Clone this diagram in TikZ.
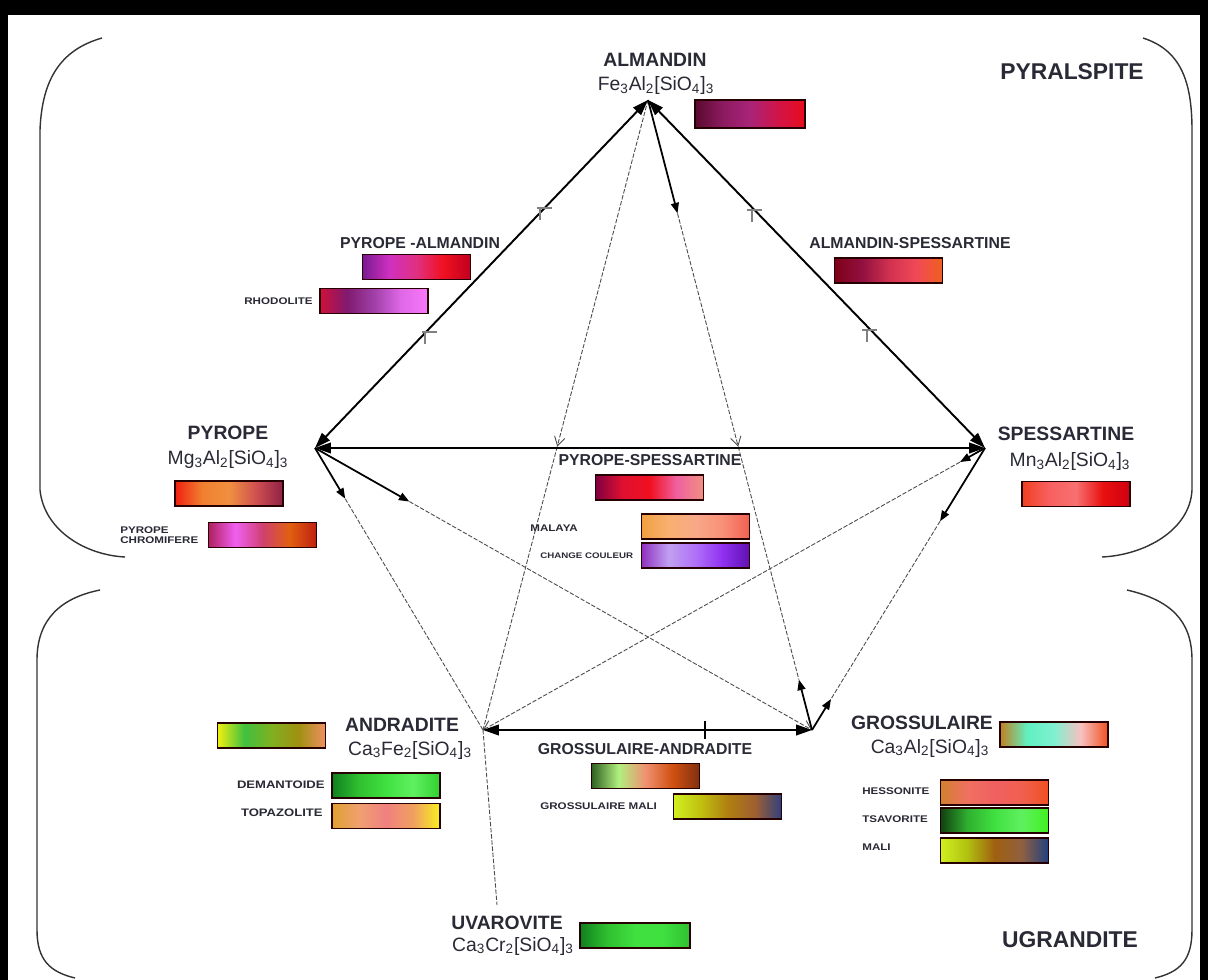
\documentclass[tikz,border=0pt]{standalone}
\usepackage{fontspec}
\setmainfont{Liberation Sans}
\newfontfamily\widebf{Liberation Sans}[FakeStretch=1.2]
\usetikzlibrary{arrows.meta,calc}
\definecolor{ink}{HTML}{2A2A36}
\newcommand\gemshade[6]{%
  \definecolor{#1a}{HTML}{#2}\definecolor{#1b}{HTML}{#3}\definecolor{#1c}{HTML}{#4}%
  \definecolor{#1d}{HTML}{#5}\definecolor{#1e}{HTML}{#6}%
  \pgfdeclarehorizontalshading{#1}{100bp}{color(0bp)=(#1a); color(25bp)=(#1a);
    color(37.5bp)=(#1b); color(50bp)=(#1c); color(62.5bp)=(#1d);
    color(75bp)=(#1e); color(100bp)=(#1e)}}
\gemshade{almshade}{5A0A2E}{8C1A60}{A82478}{D01448}{E80C1C}
\gemshade{pyalshade}{7A1A90}{D030C0}{E03080}{F01020}{C00020}
\gemshade{rhoshade}{D0103A}{801A70}{A040A8}{E068E8}{F878F8}
\gemshade{alspshade}{800018}{901040}{D03050}{F04858}{F06020}
\gemshade{pyrshade}{F02010}{F08030}{F09040}{D05050}{902048}
\gemshade{chrshade}{B02060}{F060F0}{D04070}{E06010}{C02010}
\gemshade{pyspshade}{800040}{E01030}{F01020}{F060A0}{F09080}
\gemshade{malshade}{F0A040}{F8B070}{F8A888}{F89078}{F06050}
\gemshade{ccshade}{9030C0}{C0A0F0}{B070F8}{9030F0}{6010B0}
\gemshade{speshade}{F04020}{F86060}{F87070}{E81010}{D00010}
\gemshade{andshade}{F0F010}{40C040}{80B020}{A09010}{F09060}
\gemshade{demshade}{108020}{30C030}{40E040}{60F060}{30D030}
\gemshade{topshade}{E0A030}{F0A070}{F08080}{F0A060}{F8F020}
\gemshade{grandshade}{306020}{B0F080}{F09070}{D05010}{803010}
\gemshade{gmalishade}{D0F020}{C0C010}{B08010}{A06030}{304080}
\gemshade{groshade}{C08020}{60F0C0}{80F0D0}{F8C0C0}{F05020}
\gemshade{hesshade}{D08030}{F07060}{F06060}{F06050}{F05020}
\gemshade{tsashade}{104010}{30B030}{40E040}{60F060}{40F020}
\gemshade{malishade}{D0F020}{B0C010}{A06010}{906040}{204080}
\gemshade{uvashade}{108020}{30C030}{40E040}{40E040}{30C030}

\begin{document}
\begin{tikzpicture}[x=0.02cm,y=-0.02cm,
  vname/.style={font=\fontsize{11}{12}\selectfont\bfseries,text=ink},
  vform/.style={font=\fontsize{11}{12}\selectfont,text=ink},
  groupname/.style={font=\fontsize{13}{14}\selectfont\bfseries,text=ink},
  pairname/.style={font=\fontsize{9}{10}\selectfont\bfseries,text=ink},
  gemname/.style={font=\widebf\bfseries\fontsize{5.5}{6}\selectfont,text=ink,inner sep=0},
  gembar/.style={shade,draw=black!85!red,line width=0.8pt,minimum width=2.16cm,
    minimum height=0.5cm,inner sep=0},
  edgeline/.style={line width=1.1pt,{Triangle[length=9pt,width=6pt]}-{Triangle[length=9pt,width=6pt]}},
  mixline/.style={gray!60!black,line width=0.5pt,dash pattern=on 2.5pt off 1pt},
  pusharrow/.style={line width=1pt,-{Triangle[length=6pt,width=4.5pt]}},
  vtip/.style={-{Straight Barb[length=5pt,width=6pt]}},
  tickmark/.style={gray,line width=0.7pt},
  brace/.style={black!80,line width=0.8pt}]
  \useasboundingbox (0,0) rectangle (1208,980);
  \fill[black] (0,0) rectangle (1208,980);
  \fill[white] (8,15) rectangle (1200,980);
  \draw[brace] (102,38) .. controls (60,50) and (42,80) .. (40,130) -- (40,490)
    .. controls (44,530) and (85,555) .. (125,557);
  \draw[brace] (1143,38) .. controls (1180,50) and (1192,80) .. (1192,130) -- (1192,490)
    .. controls (1190,530) and (1145,555) .. (1102,557);
  \draw[brace] (100,590) .. controls (60,598) and (37,620) .. (37,660) -- (37,930)
    .. controls (37,960) and (50,972) .. (75,978);
  \draw[brace] (1127,590) .. controls (1170,600) and (1192,620) .. (1192,660) -- (1192,930)
    .. controls (1192,960) and (1180,972) .. (1155,978);
  \coordinate (Alm) at (648,100);
  \coordinate (Pyr) at (315,448);
  \coordinate (Spe) at (985,448);
  \coordinate (And) at (483,730);
  \coordinate (Gro) at (812,730);
  \coordinate (Uva) at (497,905);
  \coordinate (p1) at ($(Pyr)!0.19!(Gro)$);
  \coordinate (p2) at ($(Pyr)!0.18!(And)$);
  \coordinate (a1) at ($(Alm)!0.18!(Gro)$);
  \coordinate (a2) at ($(Alm)!0.55!(And)$);
  \coordinate (a3) at ($(Alm)!0.55!(Gro)$);
  \coordinate (s1) at ($(Spe)!0.05!(And)$);
  \coordinate (s2) at ($(Spe)!0.26!(Gro)$);
  \coordinate (g1) at ($(Gro)!0.08!(Alm)$);
  \coordinate (g2) at ($(Gro)!0.11!(Spe)$);
  \draw[mixline,vtip] (Alm)--(a2);
  \draw[mixline] (a2)--(And);
  \draw[mixline,vtip] (a1)--(a3);
  \draw[mixline] (a3)--(g1);
  \draw[mixline,vtip] (p1)--(Gro);
  \draw[mixline] (p2)--(And);
  \draw[mixline,vtip] (s1)--(And);
  \draw[mixline] (s2)--(g2);
  \draw[mixline] (And)--(Uva);
  \draw[pusharrow] (Pyr)--(p1);
  \draw[pusharrow] (Pyr)--(p2);
  \draw[pusharrow] (Alm)--(a1);
  \draw[pusharrow] (Spe)--(s1);
  \draw[pusharrow] (Spe)--(s2);
  \draw[pusharrow] (Gro)--(g1);
  \draw[pusharrow] (Gro)--(g2);
  \draw[edgeline] (Pyr)--(Alm);
  \draw[edgeline] (Alm)--(Spe);
  \draw[edgeline] (Pyr)--(Spe);
  \draw[edgeline] (And)--(Gro);
  \draw[tickmark] (537,208)--(552,208) (540,208)--(540,220);
  \draw[tickmark] (422,332)--(437,332) (425,332)--(425,344);
  \draw[tickmark] (747,210)--(762,210) (752,210)--(752,222);
  \draw[tickmark] (862,330)--(877,330) (867,330)--(867,342);
  \draw[line width=0.8pt] (705,721)--(705,739);
  \node (pyral) at (1072,72)[groupname]{PYRALSPITE};
  \node (ugran) at (1070,940)[groupname]{UGRANDITE};
  \node (almname) at (655,60)[vname]{ALMANDIN};
  \node (almform) at (656,86)[vform]{Fe\textsubscript{3}Al\textsubscript{2}[SiO\textsubscript{4}]\textsubscript{3}};
  \node (pyrname) at (228,433)[vname]{PYROPE};
  \node (pyrform) at (228,460)[vform]{Mg\textsubscript{3}Al\textsubscript{2}[SiO\textsubscript{4}]\textsubscript{3}};
  \node (spename) at (1066,434)[vname]{SPESSARTINE};
  \node (speform) at (1070,462)[vform]{Mn\textsubscript{3}Al\textsubscript{2}[SiO\textsubscript{4}]\textsubscript{3}};
  \node (andname) at (402,725)[vname]{ANDRADITE};
  \node (andform) at (410,750)[vform]{Ca\textsubscript{3}Fe\textsubscript{2}[SiO\textsubscript{4}]\textsubscript{3}};
  \node (groname) at (922,723)[vname]{GROSSULAIRE};
  \node (groform) at (930,748)[vform]{Ca\textsubscript{3}Al\textsubscript{2}[SiO\textsubscript{4}]\textsubscript{3}};
  \node (uvaname) at (507,923)[vname]{UVAROVITE};
  \node (uvaform) at (513,946)[vform]{Ca\textsubscript{3}Cr\textsubscript{2}[SiO\textsubscript{4}]\textsubscript{3}};
  \node (pyalname) at (420,243)[pairname]{PYROPE -ALMANDIN};
  \node (alspname) at (910,243)[pairname]{ALMANDIN-SPESSARTINE};
  \node (pyspname) at (650,460)[pairname]{PYROPE-SPESSARTINE};
  \node (grandname) at (645,749)[pairname]{GROSSULAIRE-ANDRADITE};
  \node (rhoname) at (313,301)[gemname,anchor=east]{RHODOLITE};
  \node (chrname) at (120,535)[gemname,anchor=west,align=left]{PYROPE\\CHROMIFERE};
  \node (malname) at (530,528)[gemname,anchor=west]{MALAYA};
  \node (ccname) at (540,556)[gemname,anchor=west,font=\widebf\bfseries\fontsize{4.6}{5}\selectfont]{CHANGE COULEUR};
  \node (demname) at (325,785)[gemname,anchor=east,font=\widebf\bfseries\fontsize{6.2}{7}\selectfont]{DEMANTOIDE};
  \node (topname) at (323,813)[gemname,anchor=east,font=\widebf\bfseries\fontsize{6.2}{7}\selectfont]{TOPAZOLITE};
  \node (gmaliname) at (540,806)[gemname,anchor=west]{GROSSULAIRE MALI};
  \node (hesname) at (862,791)[gemname,anchor=west]{HESSONITE};
  \node (tsaname) at (862,819)[gemname,anchor=west]{TSAVORITE};
  \node (maliname) at (862,847)[gemname,anchor=west]{MALI};
  \node (almbar) at (750,114)[gembar,shading=almshade,minimum width=2.2cm,minimum height=0.56cm]{};
  \node (pyalbar) at (416.5,267)[gembar,shading=pyalshade]{};
  \node (rhobar) at (374,301)[gembar,shading=rhoshade]{};
  \node (alspbar) at (888.5,270.5)[gembar,shading=alspshade]{};
  \node (pyrbar) at (229,493.5)[gembar,shading=pyrshade]{};
  \node (chrbar) at (262.5,535)[gembar,shading=chrshade]{};
  \node (pyspbar) at (649.5,487.5)[gembar,shading=pyspshade]{};
  \node (malbar) at (695.5,526.5)[gembar,shading=malshade]{};
  \node (ccbar) at (695.5,555.5)[gembar,shading=ccshade]{};
  \node (spebar) at (1076,494)[gembar,shading=speshade]{};
  \node (andbar) at (271.5,735.5)[gembar,shading=andshade]{};
  \node (dembar) at (386,785.5)[gembar,shading=demshade]{};
  \node (topbar) at (386,816)[gembar,shading=topshade]{};
  \node (grandbar) at (645.5,776)[gembar,shading=grandshade]{};
  \node (gmalibar) at (727.5,806.5)[gembar,shading=gmalishade]{};
  \node (grobar) at (1054,734.5)[gembar,shading=groshade]{};
  \node (hesbar) at (994.5,792.5)[gembar,shading=hesshade]{};
  \node (tsabar) at (994.5,820.5)[gembar,shading=tsashade]{};
  \node (malibar) at (994.5,850.5)[gembar,shading=malishade]{};
  \node (uvabar) at (635,935.5)[gembar,shading=uvashade,minimum width=2.2cm]{};
\end{tikzpicture}
\end{document}
